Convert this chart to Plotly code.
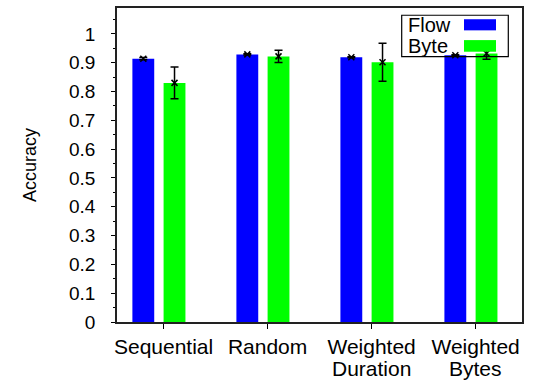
import plotly.graph_objects as go

# Sampling strategies and per-strategy accuracy (mean and error)
categories = ["Sequential", "Random", "Weighted\nDuration", "Weighted\nBytes"]
flow_acc = [0.914, 0.929, 0.919, 0.926]
flow_err = [0.004, 0.002, 0.002, 0.002]
byte_acc = [0.830, 0.922, 0.902, 0.932]
byte_err = [0.055, 0.021, 0.066, 0.020]
y_ticks = [0, 0.1, 0.2, 0.3, 0.4, 0.5, 0.6, 0.7, 0.8, 0.9, 1.0]

W, H = 533, 382
ML, MR, MT, MB = 117, 11, 6, 60
FONT = "Liberation Sans, Arial, Helvetica, sans-serif"
BLUE, GREEN = "#0000ff", "#00ff00"
BAR_W = 0.21
series = [
    ("Flow", flow_acc, flow_err, BLUE, -0.30),
    ("Byte", byte_acc, byte_err, GREEN, 0.0),
]

idx = list(range(len(categories)))
fig = go.Figure()
for name, vals, errs, color, off in series:
    fig.add_trace(go.Bar(
        x=idx, y=vals, offset=off, width=BAR_W, name=name,
        marker=dict(color=color, line=dict(width=0)), showlegend=False,
    ))
for name, vals, errs, color, off in series:
    fig.add_trace(go.Scatter(
        x=[i + off + BAR_W / 2 for i in idx], y=vals, mode="markers",
        marker=dict(symbol="x-thin", size=6, color="black",
                    line=dict(width=1.5, color="black")),
        error_y=dict(type="data", array=errs, visible=True,
                     color="black", thickness=1.5, width=4),
        showlegend=False, hoverinfo="skip",
    ))

first_lines = [c.split("\n")[0] for c in categories]
second_lines = [c.split("\n")[1] if "\n" in c else "" for c in categories]

pw, ph = W - ML - MR, H - MT - MB


def px_x(p):
    return (p - ML) / pw


def px_y(p):
    return (H - MB - p) / ph


shapes = [
    # legend frame
    dict(type="rect", xref="paper", yref="paper",
         x0=px_x(401.7), x1=px_x(508.3), y0=px_y(55), y1=px_y(13.3),
         line=dict(color="black", width=1.2), fillcolor="rgba(0,0,0,0)"),
    dict(type="rect", xref="paper", yref="paper",
         x0=px_x(464), x1=px_x(496), y0=px_y(28.5), y1=px_y(17.3),
         line=dict(width=0), fillcolor=BLUE),
    dict(type="rect", xref="paper", yref="paper",
         x0=px_x(464), x1=px_x(496), y0=px_y(50), y1=px_y(38.3),
         line=dict(width=0), fillcolor=GREEN),
]
annotations = [
    dict(text="Flow", xref="paper", yref="paper", x=px_x(406), y=px_y(23),
         xanchor="left", yanchor="middle", showarrow=False,
         font=dict(family=FONT, size=20, color="black")),
    dict(text="Byte", xref="paper", yref="paper", x=px_x(406), y=px_y(44.5),
         xanchor="left", yanchor="middle", showarrow=False,
         font=dict(family=FONT, size=20, color="black")),
]
for i, t in zip(idx, second_lines):
    if t:
        annotations.append(dict(
            text=t, xref="x", yref="paper", x=i, y=px_y(369),
            xanchor="center", yanchor="middle", showarrow=False,
            font=dict(family=FONT, size=21, color="black")))

fig.update_layout(
    width=W, height=H,
    margin=dict(l=ML, r=MR, t=MT, b=MB),
    paper_bgcolor="white", plot_bgcolor="white",
    font=dict(family=FONT, size=19, color="black"),
    barmode="overlay",
    shapes=shapes, annotations=annotations,
    xaxis=dict(
        range=[-0.448, 3.446], tickmode="array", tickvals=idx,
        ticktext=first_lines, ticks="outside", ticklen=5, tickwidth=1,
        tickcolor="black", showline=True, linecolor="#222", linewidth=1.5,
        mirror=True, showgrid=False, zeroline=False,
        tickfont=dict(family=FONT, size=21, color="black"),
    ),
    yaxis=dict(
        range=[0, 1.09], tickmode="array", tickvals=y_ticks,
        ticktext=[f"{v:g}" for v in y_ticks],
        ticks="outside", ticklen=4, tickwidth=1, tickcolor="black",
        minor=dict(dtick=0.05, ticks="outside", ticklen=2, tickcolor="black"),
        showline=True, linecolor="#222", linewidth=1.5, mirror=True,
        showgrid=False, zeroline=False,
        title=dict(text="Accuracy", standoff=28,
                   font=dict(family=FONT, size=18, color="black")),
        tickfont=dict(family=FONT, size=19, color="black"),
        ticklabelstandoff=12,
    ),
)

fig.write_html("out.html")
